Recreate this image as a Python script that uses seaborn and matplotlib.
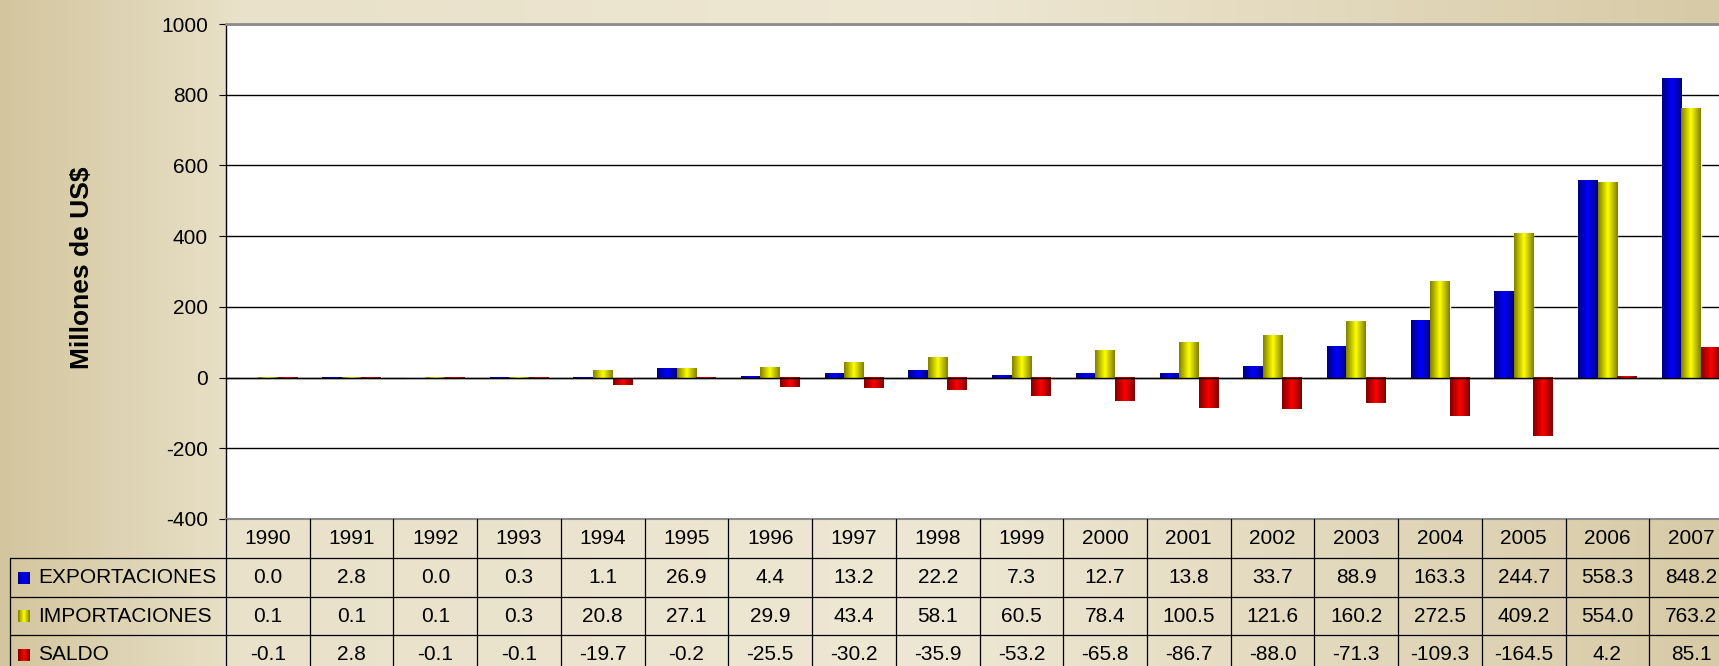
import numpy as np
import pandas as pd
import seaborn as sns
import matplotlib.pyplot as plt
import matplotlib.transforms as mtrans
from matplotlib.colors import to_rgb
from matplotlib.lines import Line2D

# Datos (millones de US$)
years = ['1990', '1991', '1992', '1993', '1994', '1995', '1996', '1997', '1998',
         '1999', '2000', '2001', '2002', '2003', '2004', '2005', '2006', '2007']
exportaciones = [0.0, 2.8, 0.0, 0.3, 1.1, 26.9, 4.4, 13.2, 22.2, 7.3, 12.7, 13.8,
                 33.7, 88.9, 163.3, 244.7, 558.3, 848.2]
importaciones = [0.1, 0.1, 0.1, 0.3, 20.8, 27.1, 29.9, 43.4, 58.1, 60.5, 78.4, 100.5,
                 121.6, 160.2, 272.5, 409.2, 554.0, 763.2]
saldo = [-0.1, 2.8, -0.1, -0.1, -19.7, -0.2, -25.5, -30.2, -35.9, -53.2, -65.8, -86.7,
         -88.0, -71.3, -109.3, -164.5, 4.2, 85.1]
series = ['EXPORTACIONES', 'IMPORTACIONES', 'SALDO']
colores = ['#0000ff', '#ffff00', '#ff0000']
yticks = [-400, -200, 0, 200, 400, 600, 800, 1000]

W, H = 1719, 666
sns.set_theme(style='white')
plt.rcParams['font.family'] = ['Liberation Sans', 'DejaVu Sans']

fig = plt.figure(figsize=(W / 100, H / 100), dpi=100)

# fondo beige degradado
bg = fig.add_axes([0, 0, 1, 1], zorder=-10)
gx = np.linspace(0, 1, 400)
stops_x = [0, 0.14, 0.55, 1]
stops_c = np.array([[211, 197, 158], [233, 225, 201], [238, 231, 211], [215, 202, 166]]) / 255
grad = np.stack([np.interp(gx, stops_x, stops_c[:, k]) for k in range(3)], axis=-1)
bg.imshow(grad[None, :, :], aspect='auto', extent=[0, 1, 0, 1])
bg.axis('off')

# area del grafico (el borde derecho queda fuera de la imagen, como en el original)
ax = fig.add_axes([226 / W, 1 - 519 / H, (1733 - 226) / W, (519 - 24) / H])
ax.set_facecolor('white')

df = pd.DataFrame({
    'year': years * 3,
    'valor': exportaciones + importaciones + saldo,
    'serie': [s for s in series for _ in years],
})
sns.barplot(data=df, x='year', y='valor', hue='serie', hue_order=series,
            palette=colores, saturation=1, width=0.7, errorbar=None,
            legend=False, ax=ax)

# efecto cilindro en las barras
t = np.linspace(0, 1, 64)
prof = np.interp(t, [0, 0.5, 1], [0.5, 1.0, 0.5])
for bar in list(ax.patches):
    h = bar.get_height()
    if h == 0:
        continue
    base = np.array(to_rgb(bar.get_facecolor()))
    img = (prof[:, None] * base[None, :])[None, :, :]
    x0, y0, w = bar.get_x(), bar.get_y(), bar.get_width()
    ax.imshow(img, extent=[x0, x0 + w, min(y0, y0 + h), max(y0, y0 + h)],
              aspect='auto', interpolation='bilinear', zorder=bar.get_zorder() + 0.1)

ax.set_xlim(-0.5, len(years) - 0.5)
ax.set_ylim(-400, 1000)
ax.set_yticks(yticks)
ax.set_yticklabels([str(v) for v in yticks])
ax.yaxis.grid(True, color='black', lw=1.0)
ax.set_axisbelow(True)
ax.axhline(0, color='black', lw=1.0, zorder=5)
ax.set_xticks([])
ax.set_xlabel('')
ax.set_ylabel('')
ax.tick_params(axis='y', left=True, length=5, width=0.8, pad=8, labelsize=15,
               color='black', labelcolor='black')
ax.spines['left'].set_color('black')
ax.spines['left'].set_linewidth(1)
ax.spines['top'].set_color('#8c8c8c')
ax.spines['top'].set_linewidth(2)
ax.spines['bottom'].set_color('#8c8c8c')
ax.spines['bottom'].set_linewidth(1.5)
ax.spines['right'].set_visible(False)

ax.text((82 - 226) / 1507, 1 - (267.5 - 24) / 495, 'Millones de US$', rotation=90,
        ha='center', va='center', fontsize=19, fontweight='bold', color='black',
        transform=ax.transAxes)

# tabla de datos bajo el grafico
def fy(py):
    return 1 - py / H

tab_y = [519, 558, 597, 635, 674]
trans = mtrans.blended_transform_factory(ax.transData, fig.transFigure)
line_kw = dict(color='black', lw=0.9, clip_on=False)

for i in range(len(years) + 1):
    fig.add_artist(Line2D([i - 0.5, i - 0.5], [fy(tab_y[0]), fy(tab_y[-1])],
                          transform=trans, **line_kw))
for py in tab_y[1:4]:
    fig.add_artist(Line2D([10 / W, 1], [fy(py), fy(py)], transform=fig.transFigure, **line_kw))
fig.add_artist(Line2D([10 / W, 10 / W], [fy(tab_y[1]), fy(tab_y[-1])],
                      transform=fig.transFigure, **line_kw))

for i, yr in enumerate(years):
    fig.text(i, fy((tab_y[0] + tab_y[1]) / 2), yr, transform=trans,
             ha='center', va='center', fontsize=15, color='black')

for r, (nombre, vals, col) in enumerate(zip(series, [exportaciones, importaciones, saldo], colores)):
    yc = (tab_y[r + 1] + tab_y[r + 2]) / 2
    for i, v in enumerate(vals):
        fig.text(i, fy(yc), f'{v:.1f}', transform=trans,
                 ha='center', va='center', fontsize=15, color='black')
    fig.text(38 / W, fy(yc), nombre, ha='left', va='center', fontsize=15, color='black')
    sq = fig.add_axes([18 / W, fy(yc + 6), 12 / W, 12 / H])
    base = np.array(to_rgb(col))
    sq.imshow((prof[:, None] * base[None, :])[None, :, :], aspect='auto', extent=[0, 1, 0, 1])
    sq.axis('off')

fig.savefig('out.png', dpi=100)
